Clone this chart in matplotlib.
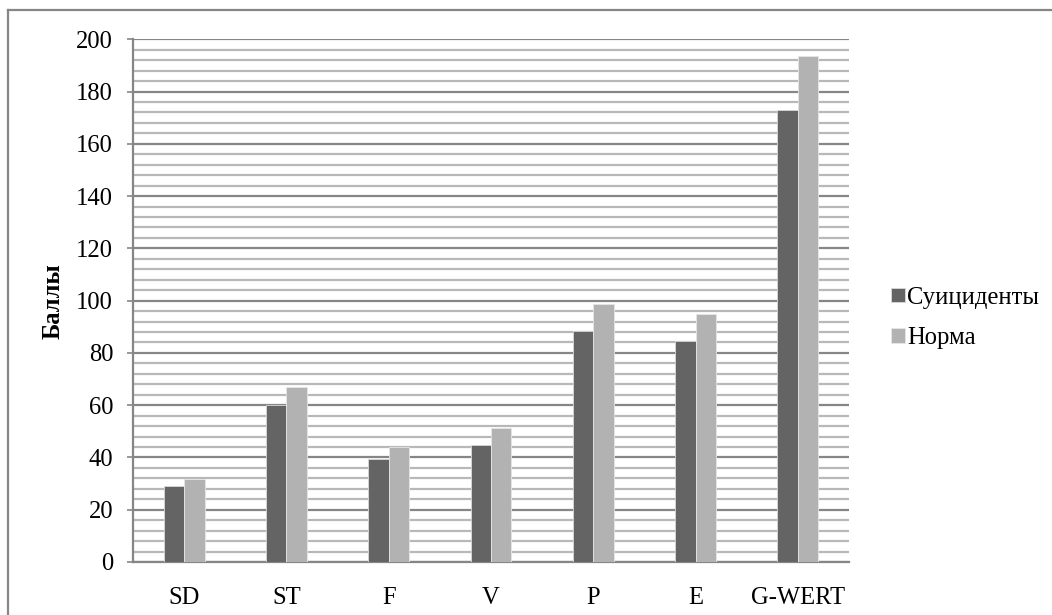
import matplotlib
matplotlib.use("Agg")
import matplotlib.pyplot as plt
import numpy as np
from matplotlib.lines import Line2D

categories = ["SD", "ST", "F", "V", "P", "E", "G-WERT"]
suicidents = [29.0, 60.0, 39.5, 44.7, 88.4, 84.5, 173.0]
norma = [31.8, 67.0, 44.0, 51.2, 98.6, 94.9, 193.5]
series_names = ["Суициденты", "Норма"]

plt.rcParams['font.family'] = ['Liberation Serif', 'DejaVu Serif']

W, H = 1052, 615
FS = 17.7
fig = plt.figure(figsize=(W / 100, H / 100), dpi=100)
ax = fig.add_axes([133 / W, (H - 562) / H, (849 - 133) / W, (562 - 39.3) / H])

x = np.arange(len(categories))
w = 0.2
ax.bar(x - w / 2, suicidents, w, color="#646464", edgecolor="#d9d9d9", linewidth=0.6,
       label=series_names[0], zorder=3)
ax.bar(x + w / 2, norma, w, color="#b2b2b2", edgecolor="#e6e6e6", linewidth=0.6,
       label=series_names[1], zorder=3)

ax.set_xlim(-0.5, len(categories) - 0.5)
ax.set_ylim(0, 200)
ax.set_yticks(np.arange(0, 201, 20))
ax.set_yticks(np.arange(0, 201, 4), minor=True)
ax.grid(which="major", axis="y", color="#868686", linewidth=1.6, zorder=0)
ax.grid(which="minor", axis="y", color="#b8b8b8", linewidth=1.6, zorder=0)
ax.set_xticks(x)
ax.set_xticklabels(categories)

for s in ["top", "right"]:
    ax.spines[s].set_visible(False)
for s in ["left", "bottom"]:
    ax.spines[s].set_color("#868686")
    ax.spines[s].set_linewidth(1.6)

ax.tick_params(axis="y", which="major", length=4.3, width=1.2, color="#868686",
               labelsize=FS, pad=10)
ax.tick_params(axis="y", which="minor", length=0)
ax.tick_params(axis="x", length=0, labelsize=FS, pad=18)

ax.set_ylabel("Баллы", fontsize=FS, fontweight="bold")
ax.yaxis.set_label_coords((65 - 133) / (849 - 133), 0.5)

leg = ax.legend(loc="center left", bbox_to_anchor=(891 / W, 1 - 318 / H),
                bbox_transform=fig.transFigure, frameon=False, fontsize=FS,
                handlelength=0.55, handleheight=0.55, handletextpad=0.12,
                labelspacing=0.75, borderpad=0, borderaxespad=0)

# chart area frame
fig.add_artist(Line2D([8 / W, 8 / W], [0, 1 - 10 / H], transform=fig.transFigure,
                      color="#868686", linewidth=1.6))
fig.add_artist(Line2D([8 / W, 1], [1 - 10 / H, 1 - 10 / H], transform=fig.transFigure,
                      color="#868686", linewidth=1.6))

fig.savefig("out.png", dpi=100)
